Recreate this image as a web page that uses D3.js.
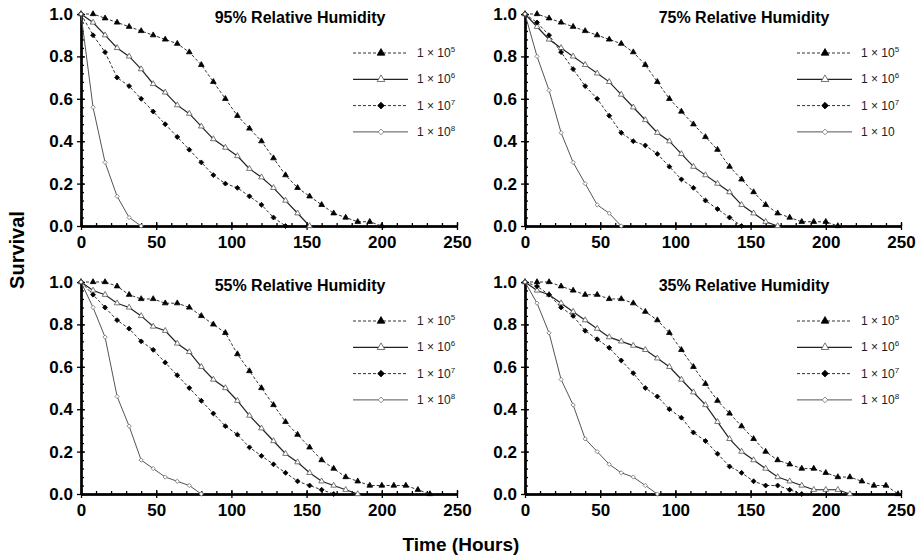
<!DOCTYPE html>
<html lang="en">
<meta charset="utf-8">
<title>Survival vs time</title>
<head>
<style>
  body { margin: 0; background: #fff; }
  text { font-family: Arial, "Liberation Sans", sans-serif; }
</style>
</head>
<body>
  <script src="https://d3js.org/d3.v7.min.js"></script>
  <div id="chart"></div>
  <script>

    // sampling times (hours), every series is read by index against these
    var times = [0, 8, 16, 24, 32, 40, 48, 56, 64, 72, 80, 88, 96, 104, 112, 120,
      128, 136, 144, 152, 160, 168, 176, 184, 192, 200, 208, 216, 224, 232, 240, 248];

    var xTicks = [0, 50, 100, 150, 200, 250];
    var yTicks = [0, 0.2, 0.4, 0.6, 0.8, 1.0];

    var seriesNames = ["1e5", "1e6", "1e7", "1e8"];
    var legendExp = ["5", "6", "7", "8"];

    // 95% RH
    var rh95_e5 = [1.0, 1.0, 0.98, 0.96, 0.94, 0.92, 0.90, 0.88, 0.86, 0.82, 0.76, 0.68, 0.60, 0.52, 0.46, 0.40, 0.32, 0.24, 0.18, 0.14, 0.10, 0.06, 0.04, 0.02, 0.02, 0.0];
    var rh95_e6 = [1.0, 0.96, 0.90, 0.84, 0.80, 0.74, 0.67, 0.63, 0.57, 0.53, 0.47, 0.41, 0.37, 0.33, 0.27, 0.23, 0.18, 0.12, 0.06, 0.0];
    var rh95_e7 = [1.0, 0.90, 0.82, 0.70, 0.66, 0.60, 0.54, 0.48, 0.42, 0.36, 0.30, 0.24, 0.20, 0.18, 0.14, 0.10, 0.04, 0.0];
    var rh95_e8 = [1.0, 0.56, 0.30, 0.14, 0.04, 0.0];

    // 75% RH
    var rh75_e5 = [1.0, 1.0, 0.98, 0.96, 0.94, 0.92, 0.90, 0.88, 0.86, 0.82, 0.76, 0.68, 0.60, 0.54, 0.48, 0.42, 0.36, 0.28, 0.22, 0.16, 0.10, 0.06, 0.04, 0.02, 0.02, 0.02, 0.0];
    var rh75_e6 = [1.0, 0.94, 0.88, 0.84, 0.80, 0.76, 0.72, 0.68, 0.62, 0.56, 0.50, 0.44, 0.40, 0.34, 0.28, 0.24, 0.20, 0.16, 0.10, 0.06, 0.02, 0.0];
    var rh75_e7 = [1.0, 0.96, 0.90, 0.82, 0.74, 0.66, 0.60, 0.52, 0.44, 0.40, 0.38, 0.34, 0.28, 0.22, 0.18, 0.12, 0.08, 0.04, 0.0];
    var rh75_e8 = [1.0, 0.80, 0.64, 0.44, 0.30, 0.20, 0.10, 0.06, 0.0];

    // 55% RH
    var rh55_e5 = [1.0, 1.0, 1.0, 0.98, 0.94, 0.92, 0.92, 0.90, 0.90, 0.88, 0.84, 0.80, 0.76, 0.66, 0.58, 0.50, 0.42, 0.34, 0.28, 0.22, 0.16, 0.12, 0.08, 0.06, 0.04, 0.04, 0.04, 0.04, 0.02, 0.0];
    var rh55_e6 = [1.0, 0.96, 0.94, 0.90, 0.88, 0.84, 0.79, 0.77, 0.71, 0.67, 0.60, 0.54, 0.50, 0.44, 0.37, 0.31, 0.25, 0.19, 0.15, 0.10, 0.06, 0.04, 0.02, 0.0];
    var rh55_e7 = [1.0, 0.94, 0.88, 0.82, 0.78, 0.72, 0.68, 0.62, 0.56, 0.50, 0.44, 0.38, 0.32, 0.28, 0.22, 0.18, 0.14, 0.10, 0.06, 0.04, 0.02, 0.0];
    var rh55_e8 = [1.0, 0.88, 0.74, 0.46, 0.32, 0.16, 0.12, 0.08, 0.06, 0.04, 0.0];

    // 35% RH
    var rh35_e5 = [1.0, 1.0, 1.0, 0.98, 0.96, 0.94, 0.94, 0.92, 0.92, 0.90, 0.86, 0.82, 0.76, 0.68, 0.60, 0.52, 0.44, 0.38, 0.32, 0.26, 0.20, 0.16, 0.14, 0.12, 0.12, 0.10, 0.08, 0.08, 0.06, 0.04, 0.04, 0.0];
    var rh35_e6 = [1.0, 0.96, 0.94, 0.90, 0.86, 0.82, 0.78, 0.74, 0.72, 0.70, 0.68, 0.64, 0.60, 0.54, 0.48, 0.42, 0.34, 0.26, 0.20, 0.16, 0.12, 0.08, 0.06, 0.04, 0.02, 0.02, 0.02, 0.0];
    var rh35_e7 = [1.0, 0.98, 0.94, 0.88, 0.84, 0.77, 0.73, 0.69, 0.63, 0.57, 0.50, 0.46, 0.40, 0.36, 0.29, 0.25, 0.19, 0.13, 0.10, 0.06, 0.04, 0.04, 0.02, 0.0];
    var rh35_e8 = [1.0, 0.90, 0.76, 0.54, 0.42, 0.26, 0.20, 0.14, 0.10, 0.08, 0.04, 0.0];

    var panels = [
      { title: "95% Relative Humidity", left: 81, top: 14, data: [rh95_e5, rh95_e6, rh95_e7, rh95_e8], exps: legendExp },
      { title: "75% Relative Humidity", left: 525, top: 14, data: [rh75_e5, rh75_e6, rh75_e7, rh75_e8], exps: ["5", "6", "7", ""] },
      { title: "55% Relative Humidity", left: 81, top: 282, data: [rh55_e5, rh55_e6, rh55_e7, rh55_e8], exps: legendExp },
      { title: "35% Relative Humidity", left: 525, top: 282, data: [rh35_e5, rh35_e6, rh35_e7, rh35_e8], exps: legendExp }
    ];

    // style per series (diamonds are squares turned 45 degrees)
    var styles = [
      { dash: "3,2", stroke: "#333", width: 1, symbol: d3.symbolTriangle, rot: 0, size: 14, fill: "#000", mstroke: "#000" },
      { dash: null, stroke: "#222", width: 1.2, symbol: d3.symbolTriangle, rot: 0, size: 14, fill: "#fff", mstroke: "#555" },
      { dash: "3,2", stroke: "#333", width: 1, symbol: d3.symbolSquare, rot: 45, size: 12, fill: "#000", mstroke: "#000" },
      { dash: null, stroke: "#555", width: 1, symbol: d3.symbolSquare, rot: 45, size: 9, fill: "#fff", mstroke: "#777" }
    ];

    var W = 376, H = 212;

    var svg = d3.select("#chart").append("svg")
      .attr("width", 923)
      .attr("height", 560);

    panels.forEach(function (p) {
      var g = svg.append("g").attr("transform", "translate(" + p.left + "," + p.top + ")");

      var x = d3.scaleLinear().domain([0, 250]).range([0, W]);
      var y = d3.scaleLinear().domain([0, 1]).range([H, 0]);

      // minor ticks
      g.append("g").attr("class", "ax")
        .attr("transform", "translate(0," + H + ")")
        .call(d3.axisBottom(x).tickValues(d3.range(0, 251, 10)).tickSize(-3).tickSizeOuter(0).tickFormat(""));
      g.append("g").attr("class", "ax")
        .call(d3.axisLeft(y).tickValues(d3.range(0, 25).map(function (i) { return i * 0.04; })).tickSize(-3).tickSizeOuter(0).tickFormat(""));

      // major ticks crossing the axis
      g.append("g").attr("class", "ax")
        .attr("transform", "translate(0," + H + ")")
        .call(d3.axisBottom(x).tickValues(xTicks).tickSize(-4).tickSizeOuter(0).tickFormat(""));
      g.append("g").attr("class", "ax")
        .call(d3.axisLeft(y).tickValues(yTicks).tickSize(-4).tickSizeOuter(0).tickFormat(""));

      g.append("g").attr("class", "ax lab")
        .attr("transform", "translate(0," + H + ")")
        .call(d3.axisBottom(x).tickValues(xTicks).tickSize(4).tickPadding(6).tickSizeOuter(0));
      g.append("g").attr("class", "ax lab")
        .call(d3.axisLeft(y).tickValues(yTicks).tickSize(4).tickPadding(4).tickSizeOuter(0).tickFormat(d3.format(".1f")));

      g.selectAll(".ax path.domain").attr("stroke", "#000").attr("stroke-width", 2);
      g.selectAll(".ax line").attr("stroke", "#000").attr("stroke-width", 1.3);
      g.selectAll(".lab text").attr("font-size", 17).attr("font-weight", "bold").attr("fill", "#000")
        .attr("font-family", "Arial, 'Liberation Sans', sans-serif");

      // series
      var line = d3.line()
        .x(function (d) { return x(d.t); })
        .y(function (d) { return y(d.v); });

      p.data.forEach(function (vals, si) {
        var st = styles[si];
        var pts = vals.map(function (v, i) { return { t: times[i], v: v }; });
        g.append("path")
          .datum(pts)
          .attr("fill", "none")
          .attr("stroke", st.stroke)
          .attr("stroke-width", st.width)
          .attr("stroke-dasharray", st.dash)
          .attr("d", line);
        g.selectAll(".m" + si)
          .data(pts)
          .enter()
          .append("path")
          .attr("transform", function (d) { return "translate(" + x(d.t) + "," + y(d.v) + ") rotate(" + st.rot + ")"; })
          .attr("d", d3.symbol().type(st.symbol).size(st.size))
          .attr("fill", st.fill)
          .attr("stroke", st.mstroke)
          .attr("stroke-width", 0.8);
      });

      // title
      g.append("text")
        .attr("x", 219)
        .attr("y", 9)
        .attr("text-anchor", "middle")
        .attr("font-size", 16)
        .attr("font-weight", "bold")
        .text(p.title);

      // legend
      var lg = g.append("g");
      seriesNames.forEach(function (name, si) {
        var st = styles[si];
        var ly = 39 + si * 26.3;
        lg.append("line")
          .attr("x1", 272).attr("x2", 327)
          .attr("y1", ly).attr("y2", ly)
          .attr("stroke", st.stroke)
          .attr("stroke-width", st.width)
          .attr("stroke-dasharray", st.dash);
        lg.append("path")
          .attr("transform", "translate(300," + ly + ") rotate(" + st.rot + ")")
          .attr("d", d3.symbol().type(st.symbol).size(st.size * 1.8))
          .attr("fill", st.fill)
          .attr("stroke", st.mstroke)
          .attr("stroke-width", 0.8);
        var t = lg.append("text")
          .attr("x", 336)
          .attr("y", ly + 4)
          .attr("font-size", 12)
          .attr("fill", "#222");
        t.append("tspan").text("1 \u00d7 10");
        if (p.exps[si] !== "") {
          t.append("tspan").attr("font-size", 8).attr("dy", -5).text(p.exps[si]);
        }
      });
    });

    // shared axis titles
    svg.append("text")
      .attr("transform", "translate(24,250) rotate(-90)")
      .attr("text-anchor", "middle")
      .attr("font-size", 20)
      .attr("font-weight", "bold")
      .text("Survival");

    svg.append("text")
      .attr("x", 461)
      .attr("y", 551)
      .attr("text-anchor", "middle")
      .attr("font-size", 19)
      .attr("font-weight", "bold")
      .text("Time (Hours)");

  </script>
</body>
</html>
